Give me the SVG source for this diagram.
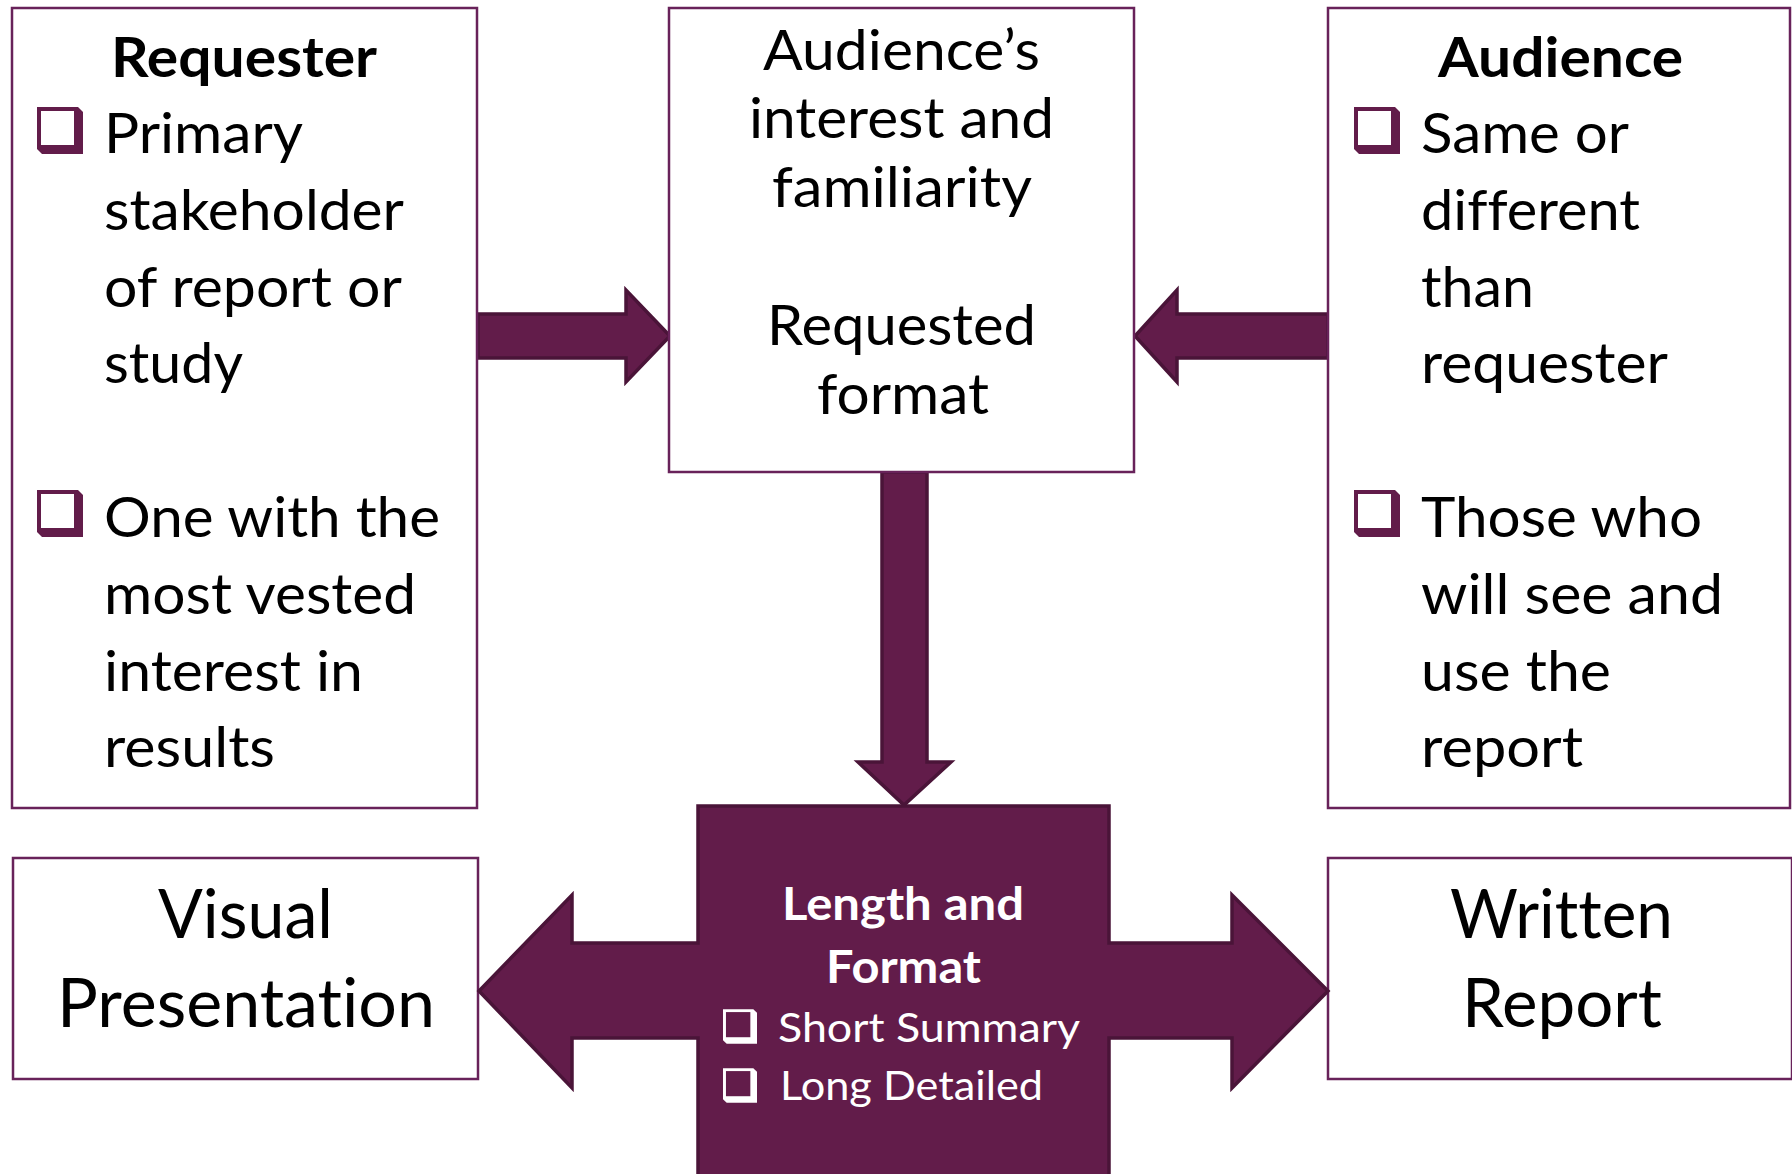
<svg xmlns="http://www.w3.org/2000/svg" xmlns:xlink="http://www.w3.org/1999/xlink" width="1792" height="1174" viewBox="0 0 1792 1174">
<style>
.box{fill:#fff;stroke:#68225A;stroke-width:2.5}
.arrow{fill:#621C4A;stroke:#4A1438;stroke-width:3.5;stroke-linejoin:miter}
text{font-family:Lato,"Open Sans","Liberation Sans",sans-serif;fill:#000;font-variant-ligatures:none;font-feature-settings:"liga" 0,"dlig" 0}
.body{font-size:56px}
.title{font-size:56px;font-weight:bold}
.big{font-size:68px}
.wb{font-size:46px;font-weight:bold;fill:#fff}
.wt{font-size:41px;fill:#fff}
</style>
<defs>
<symbol id="chk" viewBox="0 0 46 47" overflow="visible">
<polygon points="0,0 41,0 46,5 46,47 5,47 0,42" fill="#621C4A"/>
<rect x="4" y="4" width="33" height="34" fill="#fff"/>
</symbol>
<symbol id="chkw" viewBox="0 0 46 47" overflow="visible">
<polygon points="0,0 41,0 46,5 46,47 5,47 0,42" fill="#fff"/>
<rect x="4" y="4" width="33" height="34" fill="#621C4A"/>
</symbol>
</defs>
<rect width="1792" height="1174" fill="#fff"/>

<g id="connectors">
<path class="arrow" d="M478,314 H626 V290 L670,336 L626,382 V358 H478 Z"/>
<path class="arrow" d="M1328,314 H1177 V290 L1135,336 L1177,382 V358 H1328 Z"/>
<path class="arrow" d="M882,472 H927 V762 H951 L904,805 L858,762 H882 Z"/>
</g>

<g id="requester">
<rect class="box" x="12" y="8" width="465" height="800"/>
<text class="title" x="111" y="77" textLength="266" lengthAdjust="spacingAndGlyphs">Requester</text>
<use xlink:href="#chk" x="37" y="107" width="46" height="47"/>
<use xlink:href="#chk" x="37" y="490" width="46" height="47"/>
<text class="body" x="104" y="153" textLength="199" lengthAdjust="spacingAndGlyphs">Primary</text>
<text class="body" x="104" y="230" textLength="300" lengthAdjust="spacingAndGlyphs">stakeholder</text>
<text class="body" x="104" y="307" textLength="298" lengthAdjust="spacingAndGlyphs">of report or</text>
<text class="body" x="104" y="383" textLength="139" lengthAdjust="spacingAndGlyphs">study</text>
<text class="body" x="104" y="537" textLength="336" lengthAdjust="spacingAndGlyphs">One with the</text>
<text class="body" x="104" y="614" textLength="312" lengthAdjust="spacingAndGlyphs">most vested</text>
<text class="body" x="104" y="691" textLength="259" lengthAdjust="spacingAndGlyphs">interest in</text>
<text class="body" x="104" y="767" textLength="171" lengthAdjust="spacingAndGlyphs">results</text>
</g>

<g id="interest">
<rect class="box" x="669" y="8" width="465" height="464"/>
<text class="body" x="763" y="70" textLength="277" lengthAdjust="spacingAndGlyphs">Audience’s</text>
<text class="body" x="749" y="138" textLength="305" lengthAdjust="spacingAndGlyphs">interest and</text>
<text class="body" x="772" y="207" textLength="260" lengthAdjust="spacingAndGlyphs">familiarity</text>
<text class="body" x="767" y="345" textLength="269" lengthAdjust="spacingAndGlyphs">Requested</text>
<text class="body" x="817" y="414" textLength="172" lengthAdjust="spacingAndGlyphs">format</text>
</g>

<g id="audience">
<rect class="box" x="1328" y="8" width="462" height="800"/>
<text class="title" x="1438" y="77" textLength="245" lengthAdjust="spacingAndGlyphs">Audience</text>
<use xlink:href="#chk" x="1354" y="107" width="46" height="47"/>
<use xlink:href="#chk" x="1354" y="490" width="46" height="47"/>
<text class="body" x="1421" y="153" textLength="208" lengthAdjust="spacingAndGlyphs">Same or</text>
<text class="body" x="1421" y="230" textLength="219" lengthAdjust="spacingAndGlyphs">different</text>
<text class="body" x="1421" y="307" textLength="113" lengthAdjust="spacingAndGlyphs">than</text>
<text class="body" x="1421" y="383" textLength="247" lengthAdjust="spacingAndGlyphs">requester</text>
<text class="body" x="1421" y="537" textLength="281" lengthAdjust="spacingAndGlyphs">Those who</text>
<text class="body" x="1421" y="614" textLength="302" lengthAdjust="spacingAndGlyphs">will see and</text>
<text class="body" x="1421" y="691" textLength="190" lengthAdjust="spacingAndGlyphs">use the</text>
<text class="body" x="1421" y="767" textLength="162" lengthAdjust="spacingAndGlyphs">report</text>
</g>

<g id="visual">
<rect class="box" x="13" y="858" width="465" height="221"/>
<text class="big" x="158" y="938" textLength="175" lengthAdjust="spacingAndGlyphs">Visual</text>
<text class="big" x="57" y="1027" textLength="378" lengthAdjust="spacingAndGlyphs">Presentation</text>
</g>

<g id="written">
<rect class="box" x="1328" y="858" width="464" height="221"/>
<text class="big" x="1450" y="938" textLength="223" lengthAdjust="spacingAndGlyphs">Written</text>
<text class="big" x="1462" y="1027" textLength="200" lengthAdjust="spacingAndGlyphs">Report</text>
</g>

<g id="length-format">
<path class="arrow" d="M698,806 H1109 V943 H1232 V895 L1328,991 L1232,1088 V1038 H1109 V1180 H698 V1038 H572 V1088 L479,991 L572,895 V943 H698 Z"/>
<text class="wb" x="782" y="920" textLength="242" lengthAdjust="spacingAndGlyphs">Length and</text>
<text class="wb" x="826" y="983" textLength="155" lengthAdjust="spacingAndGlyphs">Format</text>
<use xlink:href="#chkw" x="723" y="1009" width="34" height="35"/>
<use xlink:href="#chkw" x="723" y="1068" width="34" height="35"/>
<text class="wt" x="778" y="1042" textLength="302" lengthAdjust="spacingAndGlyphs">Short Summary</text>
<text class="wt" x="780" y="1100" textLength="263" lengthAdjust="spacingAndGlyphs">Long Detailed</text>
</g>
</svg>
